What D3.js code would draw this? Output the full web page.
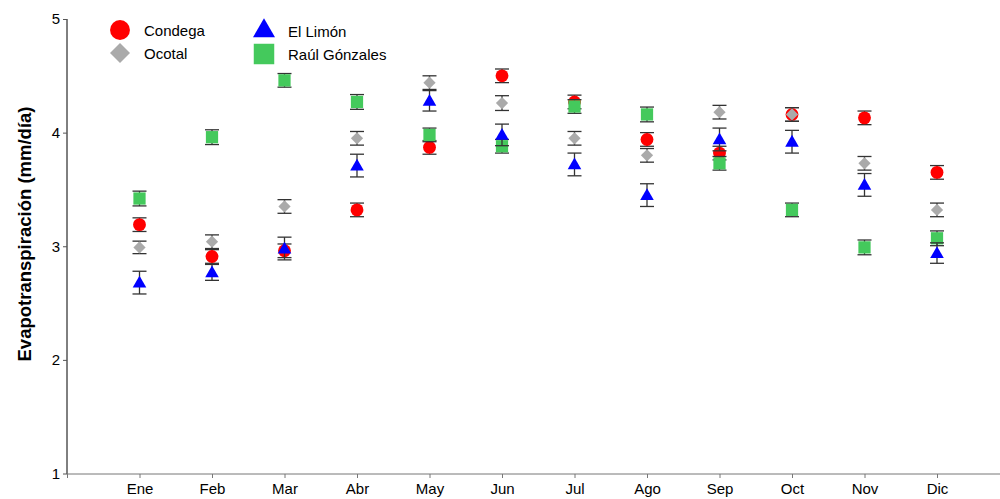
<!DOCTYPE html>
<html><head><meta charset="utf-8">
<script src="https://cdn.jsdelivr.net/npm/d3@7"></script>
<style>body{margin:0;background:#fff;}svg{display:block;}</style>
</head><body>
<svg id="c" width="1000" height="499"></svg>
<script>
const months = ["Ene","Feb","Mar","Abr","May","Jun","Jul","Ago","Sep","Oct","Nov","Dic"];
const yTicks = [1,2,3,4,5];
const condega = [3.19,2.91,2.96,3.32,3.87,4.50,4.27,3.94,3.82,4.16,4.13,3.65];
const condegaErr = [0.06,0.06,0.06,0.06,0.06,0.06,0.06,0.06,0.06,0.06,0.06,0.06];
const ocotal = [2.99,3.04,3.35,3.95,4.44,4.26,3.95,3.80,4.18,4.16,3.73,3.32];
const ocotalErr = [0.055,0.06,0.06,0.06,0.06,0.065,0.06,0.06,0.06,0.06,0.06,0.06];
const limon = [2.68,2.77,2.98,3.71,4.28,3.98,3.72,3.45,3.94,3.92,3.54,2.94];
const limonErr = [0.1,0.07,0.1,0.1,0.09,0.095,0.1,0.1,0.1,0.1,0.1,0.09];
const raul = [3.42,3.96,4.46,4.27,3.98,3.88,4.23,4.16,3.73,3.32,2.99,3.07];
const raulErr = [0.065,0.065,0.06,0.065,0.06,0.06,0.06,0.065,0.06,0.06,0.065,0.065];
const seriesNames = ["Condega","Ocotal","El Limón","Raúl Gónzales"];

const svg = d3.select("#c");
const x = d3.scaleLinear().domain([0,13]).range([67,1009.5]);
const y = d3.scaleLinear().domain([1,5]).range([473.5,19]);

// Y axis
const yAx = svg.append("g").attr("transform","translate(67,0)")
  .call(d3.axisLeft(y).tickValues(yTicks).tickFormat(d3.format("d")).tickSize(4).tickPadding(3));
yAx.select(".domain").attr("stroke","#000").attr("d","M0,19V474");
yAx.selectAll(".tick line").attr("stroke","#555");
yAx.selectAll(".tick text").attr("font-family","Liberation Sans, Arial, sans-serif").attr("font-size",15).attr("fill","#000");

// X axis
const xAx = svg.append("g").attr("transform","translate(0,474)")
  .call(d3.axisBottom(x).tickValues(d3.range(0,13)).tickFormat(d=> d===0?"":months[d-1]).tickSize(4).tickPadding(5));
xAx.select(".domain").attr("stroke","#777").attr("d","M67,0H1000");
xAx.selectAll(".tick line").attr("stroke","#777");
xAx.selectAll(".tick text").attr("font-family","Liberation Sans, Arial, sans-serif").attr("font-size",15).attr("fill","#000");

// Y title
svg.append("text").attr("transform","translate(31,234) rotate(-90)")
  .attr("text-anchor","middle").attr("font-family","Liberation Sans, Arial, sans-serif")
  .attr("font-weight","bold").attr("font-size",18.5).text("Evapotranspiración (mm/día)");

const series = [
  {name:seriesNames[0], vals:condega, err:condegaErr, color:"#ff0000", sym:d3.symbolCircle, size:130, rot:0},
  {name:seriesNames[3], vals:raul, err:raulErr, color:"#44c95c", sym:d3.symbolSquare, size:150, rot:0},
  {name:seriesNames[1], vals:ocotal, err:ocotalErr, color:"#aaaaaa", sym:d3.symbolSquare, size:75, rot:45},
  {name:seriesNames[2], vals:limon, err:limonErr, color:"#0000ff", sym:d3.symbolTriangle, size:80, rot:0}
];

series.forEach(s=>{
  const g = svg.append("g");
  const data = s.vals.map((v,i)=>({i:i+1,v,e:s.err[i]}));
  const eb = g.selectAll(".eb").data(data).enter().append("g").attr("stroke","#333").attr("stroke-width",1.3);
  eb.append("line").attr("x1",d=>x(d.i)).attr("x2",d=>x(d.i)).attr("y1",d=>y(d.v+d.e)).attr("y2",d=>y(d.v-d.e));
  eb.append("line").attr("x1",d=>x(d.i)-7).attr("x2",d=>x(d.i)+7).attr("y1",d=>y(d.v+d.e)).attr("y2",d=>y(d.v+d.e));
  eb.append("line").attr("x1",d=>x(d.i)-7).attr("x2",d=>x(d.i)+7).attr("y1",d=>y(d.v-d.e)).attr("y2",d=>y(d.v-d.e));
  g.selectAll(".m").data(data).enter().append("path")
    .attr("d",d3.symbol().type(s.sym).size(s.size))
    .attr("transform",d=>`translate(${x(d.i)},${y(d.v) + (s.sym===d3.symbolTriangle?1:0)}) rotate(${s.rot})`)
    .attr("fill",s.color);
});

// Legend
const leg = [
  {name:seriesNames[0], color:"#ff0000", sym:d3.symbolCircle, size:310, rot:0, lx:120, ly:30},
  {name:seriesNames[1], color:"#aaaaaa", sym:d3.symbolSquare, size:200, rot:45, lx:120, ly:53},
  {name:seriesNames[2], color:"#0000ff", sym:d3.symbolTriangle, size:210, rot:0, lx:264, ly:31},
  {name:seriesNames[3], color:"#44c95c", sym:d3.symbolSquare, size:420, rot:0, lx:264, ly:54}
];
const lg = svg.append("g");
leg.forEach(l=>{
  lg.append("path").attr("d",d3.symbol().type(l.sym).size(l.size)()).attr("transform",`translate(${l.lx},${l.ly}) rotate(${l.rot})`).attr("fill",l.color);
  lg.append("text").attr("x",l.lx+24).attr("y",l.ly+5.5).attr("font-family","Liberation Sans, Arial, sans-serif")
    .attr("font-size",15).text(l.name);
});
</script>
</body></html>
